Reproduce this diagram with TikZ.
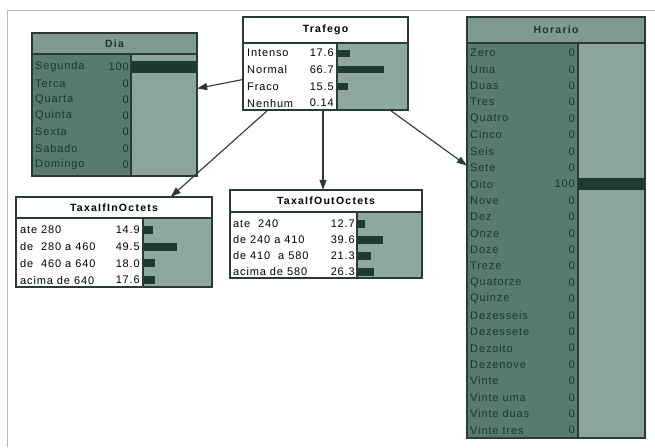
\documentclass[tikz,border=0pt]{standalone}
\usepackage{fontspec}
\setmainfont{Liberation Sans}
\newfontfamily\rowfont[LetterSpace=8]{Liberation Sans}
\newfontfamily\titlefont[LetterSpace=12]{Liberation Sans}
\usetikzlibrary{fit,arrows.meta}
\definecolor{evtitle}{HTML}{7F9A8E}
\definecolor{evlabel}{HTML}{5B7A6F}
\definecolor{evbar}{HTML}{8CA59B}
\definecolor{evtext}{HTML}{17382D}
\definecolor{plbar}{HTML}{8FA89D}
\definecolor{barcol}{HTML}{1E3A30}
\definecolor{framecol}{HTML}{2A3A34}
\tikzset{
  boxline/.style={draw=framecol, line width=1.1pt},
  rowtxt/.style={font=\rowfont\fontsize{11}{13}\selectfont, inner sep=0pt},
  titletxt/.style={font=\titlefont\bfseries\fontsize{10.5}{12}\selectfont, inner sep=0pt},
  arr/.style={draw=framecol, line width=1.1pt, -{Triangle[length=10pt,width=7pt]}},
  fitbox/.style={inner sep=0pt, draw=none}
}
\begin{document}
\begin{tikzpicture}[x=1pt,y=-1pt]
\useasboundingbox (0,0) rectangle (655,447);
\fill[white] (0,0) rectangle (655,447);
\draw[gray!55, line width=1pt] (7,447) -- (7,10) -- (655,10);

% ---------- Dia (evidence) ----------
\fill[evtitle] (32,33) rectangle (197,54);
\fill[evlabel] (32,54) rectangle (131,176);
\fill[evbar] (131,54) rectangle (197,176);
\node[titletxt, text=evtext] (diatitle) at (114.5,44) {Dia};
\foreach \lab/\val/\p [count=\i from 0] in {Segunda/100/100,Terca/0/0,Quarta/0/0,Quinta/0/0,Sexta/0/0,Sabado/0/0,Domingo/0/0}{
  \node[rowtxt, text=evtext, anchor=west] (dial\i) at (35,67+\i*16.3) {\lab};
  \node[rowtxt, text=evtext, anchor=east] (diav\i) at (129,67+\i*16.3) {\val};
  \fill[barcol] (131,67+\i*16.3-6) rectangle (131+0.66*\p,67+\i*16.3+6);
}
\draw[boxline] (32,54) -- (197,54) (131,54) -- (131,176);
\draw[boxline] (32,33) rectangle (197,176);
\node[fitbox, fit={(32,33) (197,176)}] (dia) {};

% ---------- Trafego ----------
\fill[plbar] (337,43) rectangle (408,110);
\node[titletxt] (traftitle) at (325.5,30) {Trafego};
\foreach \lab/\val/\p [count=\i from 0] in {Intenso/17.6/17.6,Normal/66.7/66.7,Fraco/15.5/15.5,Nenhum/0.14/0.14}{
  \node[rowtxt, anchor=west] (trafl\i) at (247,53+\i*16.7) {\lab};
  \node[rowtxt, anchor=east] (trafv\i) at (334,53+\i*16.7) {\val};
  \fill[barcol] (337,53+\i*16.7-3.5) rectangle (337+0.71*\p,53+\i*16.7+3.5);
}
\draw[boxline] (243,43) -- (408,43) (337,43) -- (337,110);
\draw[boxline] (243,17) rectangle (408,110);
\node[fitbox, fit={(243,17) (408,110)}] (traf) {};

% ---------- TaxaIfInOctets ----------
\fill[plbar] (143,218) rectangle (212,287);
\node[titletxt] (intitle) at (114,207.5) {TaxaIfInOctets};
\foreach \lab/\val/\p [count=\i from 0] in {ate 280/14.9/14.9,de \ 280 a 460/49.5/49.5,de \ 460 a 640/18.0/18.0,acima de 640/17.6/17.6}{
  \node[rowtxt, anchor=west] (inl\i) at (20,230+\i*16.7) {\lab};
  \node[rowtxt, anchor=east] (inv\i) at (140,230+\i*16.7) {\val};
  \fill[barcol] (143,230+\i*16.7-4) rectangle (143+0.69*\p,230+\i*16.7+4);
}
\draw[boxline] (16,218) -- (212,218) (143,218) -- (143,287);
\draw[boxline] (16,197) rectangle (212,287);
\node[fitbox, fit={(16,197) (212,287)}] (taxin) {};

% ---------- TaxaIfOutOctets ----------
\fill[plbar] (357,212) rectangle (422,278);
\node[titletxt] (outtitle) at (326,201) {TaxaIfOutOctets};
\foreach \lab/\val/\p [count=\i from 0] in {ate \ 240/12.7/12.7,de 240 a 410/39.6/39.6,de 410 \ a 580/21.3/21.3,acima de 580/26.3/26.3}{
  \node[rowtxt, anchor=west] (outl\i) at (233,224+\i*16) {\lab};
  \node[rowtxt, anchor=east] (outv\i) at (355,224+\i*16) {\val};
  \fill[barcol] (357,224+\i*16-4) rectangle (357+0.65*\p,224+\i*16+4);
}
\draw[boxline] (230,212) -- (422,212) (357,212) -- (357,278);
\draw[boxline] (230,190) rectangle (422,278);
\node[fitbox, fit={(230,190) (422,278)}] (taxout) {};

% ---------- Horario (evidence) ----------
\fill[evtitle] (467,17) rectangle (645,43);
\fill[evlabel] (467,43) rectangle (578,438);
\fill[evbar] (578,43) rectangle (645,438);
\node[titletxt, text=evtext] (hortitle) at (556,30) {Horario};
\foreach \lab/\val/\p [count=\i from 0] in {Zero/0/0,Uma/0/0,Duas/0/0,Tres/0/0,Quatro/0/0,Cinco/0/0,Seis/0/0,Sete/0/0,Oito/100/100,Nove/0/0,Dez/0/0,Onze/0/0,Doze/0/0,Treze/0/0,Quatorze/0/0,Quinze/0/0,Dezesseis/0/0,Dezessete/0/0,Dezoito/0/0,Dezenove/0/0,Vinte/0/0,Vinte uma/0/0,Vinte duas/0/0,Vinte tres/0/0}{
  \node[rowtxt, text=evtext, anchor=west] (horl\i) at (470,53+\i*16.4) {\lab};
  \node[rowtxt, text=evtext, anchor=east] (horv\i) at (575,53+\i*16.4) {\val};
  \fill[barcol] (578,53+\i*16.4-6) rectangle (578+0.67*\p,53+\i*16.4+6);
}
\draw[boxline] (467,43) -- (645,43) (578,43) -- (578,438);
\draw[boxline] (467,17) rectangle (645,438);
\node[fitbox, fit={(467,17) (645,438)}] (hor) {};

% ---------- connectors ----------
\draw[arr] ([yshift=-16pt]traf.west) -- ([yshift=16pt]dia.east);
\draw[arr] ([xshift=25pt]traf.south west) -- ([xshift=155pt]taxin.north west);
\draw[arr] ([xshift=-2.5pt]traf.south) -- ([xshift=-3pt]taxout.north);
\draw[arr] ([xshift=-18pt]traf.south east) -- ([yshift=62pt]hor.west);
\end{tikzpicture}
\end{document}
